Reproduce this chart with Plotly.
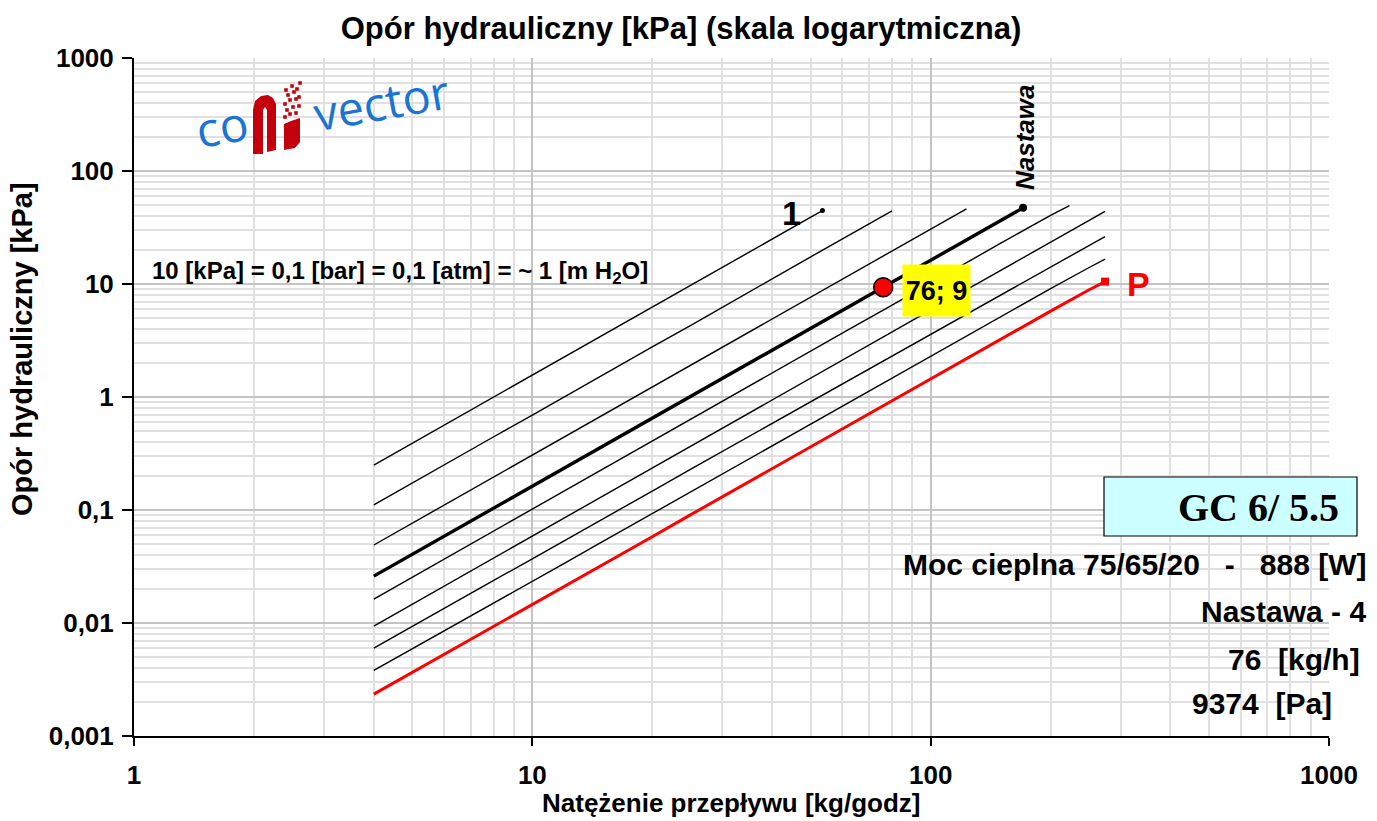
import plotly.graph_objects as go

# Flow rate [kg/h] and hydraulic resistance [kPa] for each valve preset
flow_1 = [4, 5, 6, 8, 10, 12, 15, 20, 25, 30, 40, 50, 53.5]
dp_1 = [0.250, 0.39, 0.57, 1.01, 1.57, 2.26, 3.52, 6.25, 9.8, 14.0, 25.0, 39.0, 44.7]

flow_2 = [4, 5, 6, 8, 10, 12, 15, 20, 25, 30, 40, 50, 60, 70, 80]
dp_2 = [0.111, 0.174, 0.25, 0.445, 0.69, 1.0, 1.56, 2.78, 4.3, 6.25, 11.1, 17.4, 25.0, 34.0, 44.4]

flow_3 = [4, 5, 6, 8, 10, 12, 15, 20, 25, 30, 40, 50, 60, 70, 80, 100, 123]
dp_3 = [0.049, 0.0765, 0.110, 0.196, 0.306, 0.44, 0.69, 1.22, 1.91, 2.75, 4.9, 7.65,
        11.0, 15.0, 19.6, 30.6, 46.3]

flow_4 = [4, 5, 6, 8, 10, 12, 15, 20, 25, 30, 40, 50, 60, 76, 100, 120, 150, 170.6]
dp_4 = [0.026, 0.0406, 0.0584, 0.104, 0.162, 0.234, 0.365, 0.649, 1.01, 1.46, 2.6, 4.06,
        5.84, 9.374, 16.2, 23.4, 36.5, 47.2]

flow_5 = [4, 5, 6, 8, 10, 12, 15, 20, 25, 30, 40, 50, 60, 80, 100, 120, 150, 200, 223]
dp_5 = [0.0163, 0.0255, 0.0367, 0.065, 0.102, 0.147, 0.23, 0.41, 0.64, 0.92, 1.63, 2.55,
        3.67, 6.5, 10.2, 14.7, 23.0, 40.5, 49.5]

flow_long = [4, 5, 6, 8, 10, 12, 15, 20, 25, 30, 40, 50, 60, 80, 100, 120, 150, 200, 250, 274]
dp_6 = [0.0094, 0.0147, 0.0212, 0.0376, 0.0588, 0.0847, 0.132, 0.235, 0.368, 0.53, 0.94,
        1.47, 2.12, 3.76, 5.88, 8.47, 13.2, 23.5, 36.8, 44.0]
dp_7 = [0.0060, 0.0093, 0.0134, 0.0238, 0.037, 0.053, 0.083, 0.147, 0.23, 0.33, 0.585,
        0.91, 1.31, 2.32, 3.62, 5.2, 8.1, 14.3, 22.1, 26.3]
dp_8 = [0.0038, 0.0059, 0.0085, 0.015, 0.0234, 0.0336, 0.0524, 0.093, 0.145, 0.209, 0.37,
        0.578, 0.83, 1.47, 2.29, 3.3, 5.15, 9.1, 14.0, 16.6]
dp_P = [0.00235, 0.00366, 0.0053, 0.0094, 0.0146, 0.021, 0.0328, 0.058, 0.091, 0.131, 0.232,
        0.362, 0.52, 0.925, 1.44, 2.08, 3.24, 5.75, 8.9, 10.5]

# Selected operating point (preset 4)
work_flow = 76
work_dp = 9.374

x_ticks = [1, 10, 100, 1000]
x_tick_text = ["1", "10", "100", "1000"]
y_ticks = [0.001, 0.01, 0.1, 1, 10, 100, 1000]
y_tick_text = ["0,001", "0,01", "0,1", "1", "10", "100", "1000"]

FONT = "Liberation Sans, Arial, sans-serif"
LOGO_RED = "#c4000c"
LOGO_BLUE = "#1a74d2"

# plot area in pixels
L, R, T, B = 134, 1329, 58, 736


def px(x):
    return (x - L) / (R - L)


def py(y):
    return (B - y) / (B - T)


fig = go.Figure()

thin = [(flow_1, dp_1), (flow_2, dp_2), (flow_3, dp_3), (flow_5, dp_5),
        (flow_long, dp_6), (flow_long, dp_7), (flow_long, dp_8)]
for fx, fy in thin:
    fig.add_trace(go.Scatter(x=fx, y=fy, mode="lines",
                             line=dict(color="black", width=1.4)))

fig.add_trace(go.Scatter(x=flow_4, y=dp_4, mode="lines",
                         line=dict(color="black", width=3.4)))
fig.add_trace(go.Scatter(x=flow_long, y=dp_P, mode="lines",
                         line=dict(color="#ff0000", width=3)))

# end markers
fig.add_trace(go.Scatter(x=[flow_1[-1]], y=[dp_1[-1]], mode="markers",
                         marker=dict(color="black", size=5)))
fig.add_trace(go.Scatter(x=[flow_4[-1]], y=[dp_4[-1]], mode="markers",
                         marker=dict(color="black", size=8)))
fig.add_trace(go.Scatter(x=[flow_long[-1]], y=[dp_P[-1]], mode="markers",
                         marker=dict(color="#ff0000", size=8, symbol="square")))
fig.add_trace(go.Scatter(x=[work_flow], y=[work_dp], mode="markers",
                         marker=dict(color="#ff0000", size=19,
                                     line=dict(color="black", width=1.5))))

minor_x = [m * 10 ** d for d in range(0, 3) for m in range(2, 10)]
minor_y = [m * 10 ** d for d in range(-3, 3) for m in range(2, 10)]

fig.update_xaxes(type="log", range=[0, 3], tickvals=x_ticks, ticktext=x_tick_text,
                 showgrid=True, gridcolor="#c4c4c4", gridwidth=2,
                 minor=dict(tickvals=minor_x, showgrid=True, gridcolor="#e0e0e0",
                            gridwidth=2, ticks=""),
                 showline=True, linecolor="black", linewidth=2,
                 ticks="outside", ticklen=8, tickwidth=2, tickcolor="black",
                 ticklabelstandoff=7, zeroline=False,
                 tickfont=dict(family=FONT, size=26, color="black", weight="bold"))
fig.update_yaxes(type="log", range=[-3, 3], tickvals=y_ticks, ticktext=y_tick_text,
                 showgrid=True, gridcolor="#c4c4c4", gridwidth=2,
                 minor=dict(tickvals=minor_y, showgrid=True, gridcolor="#e0e0e0",
                            gridwidth=2, ticks=""),
                 showline=True, linecolor="black", linewidth=2,
                 ticks="outside", ticklen=10, tickwidth=2, tickcolor="black",
                 ticklabelstandoff=3, zeroline=False,
                 tickfont=dict(family=FONT, size=26, color="black", weight="bold"))

shapes = []
# logo backdrop
shapes.append(dict(type="rect", xref="paper", yref="paper", layer="below",
                   x0=px(197), x1=px(448), y0=py(155), y1=py(73),
                   fillcolor="white", line=dict(width=0)))


def path_from(points):
    s = "M " + " L ".join(f"{px(a):.5f},{py(b):.5f}" for a, b in points) + " Z"
    return s


# logo mark: two joined red pillars with a narrow slit
arch = [(253, 154), (253, 110), (255, 101), (261, 96), (268, 95), (273, 98),
        (276, 104), (276, 150), (267, 152), (267, 110), (265, 107), (263, 110),
        (263, 154)]
shapes.append(dict(type="path", xref="paper", yref="paper", path=path_from(arch),
                   fillcolor=LOGO_RED, line=dict(width=0)))
# speckled right block of the mark
pillar = [(284, 150), (284, 124), (291, 121), (300, 118), (300, 142), (295, 148)]
shapes.append(dict(type="path", xref="paper", yref="paper", path=path_from(pillar),
                   fillcolor=LOGO_RED, line=dict(width=0)))
for cx, cy in [(285, 117), (290, 114), (296, 113), (287, 110), (293, 107), (299, 106),
               (285, 104), (290, 100), (296, 99), (288, 95), (294, 92), (299, 97),
               (286, 90), (292, 86), (297, 89), (300, 83)]:
    shapes.append(dict(type="rect", xref="paper", yref="paper",
                       x0=px(cx - 1.8), x1=px(cx + 1.8), y0=py(cy + 1.8), y1=py(cy - 1.8),
                       fillcolor=LOGO_RED, line=dict(width=0)))

# model box
shapes.append(dict(type="rect", xref="paper", yref="paper",
                   x0=px(1104), x1=px(1357), y0=py(536), y1=py(477),
                   fillcolor="#ccffff", line=dict(color="black", width=1.2)))


def note(text, x, y, size, **kw):
    d = dict(text=text, xref="paper", yref="paper", x=px(x), y=py(y),
             xanchor=kw.pop("xanchor", "center"), yanchor="middle",
             showarrow=False, font=dict(family=kw.pop("family", FONT), size=size,
                                        color=kw.pop("color", "black"),
                                        weight=kw.pop("weight", "bold"),
                                        style=kw.pop("style", "normal")))
    d.update(kw)
    return d


NB = "\u00a0"
annotations = [
    note("co", 222, 126, 48, color=LOGO_BLUE, weight="normal", textangle=-10,
         family="Open Sans, Liberation Sans, sans-serif"),
    note("vector", 381, 102, 47, color=LOGO_BLUE, weight="normal", textangle=-10,
         family="Open Sans, Liberation Sans, sans-serif"),
    note("10 [kPa] = 0,1 [bar] = 0,1 [atm] = ~ 1 [m H<sub>2</sub>O]", 150, 272, 24,
         xanchor="left"),
    note("1", 791, 213, 34),
    note("Nastawa", 1025, 137, 26, style="italic", textangle=-90),
    note("76; 9", 936, 290, 27, bgcolor="#ffff00", width=67, height=51, borderpad=0),
    note("P", 1138, 284, 34, color="#ff0000"),
    note("GC 6/ 5.5", 1258, 508, 40, family="Liberation Serif, Times New Roman, serif"),
    note(f"Moc cieplna 75/65/20{NB} {NB}-{NB} {NB}888 [W]", 1369, 564, 30, xanchor="right"),
    note("Nastawa - 4", 1368, 611, 30, xanchor="right"),
    note(f"76{NB} [kg/h]", 1362, 659, 30, xanchor="right"),
    note(f"9374{NB} [Pa]", 1334, 703, 30, xanchor="right"),
    note("Natężenie przepływu [kg/godz]", 731, 803, 26),
    note("Opór hydrauliczny [kPa]", 22, 349, 29, textangle=-90),
]

fig.update_layout(
    width=1377, height=821,
    margin=dict(l=L, r=1377 - R, t=T, b=821 - B),
    paper_bgcolor="white", plot_bgcolor="white",
    showlegend=False,
    title=dict(text="Opór hydrauliczny [kPa] (skala logarytmiczna)",
               x=681 / 1377, xanchor="center", y=1 - 28 / 821, yanchor="middle",
               font=dict(family=FONT, size=31, color="black", weight="bold")),
    shapes=shapes,
    annotations=annotations,
)

fig.write_html("out.html")
